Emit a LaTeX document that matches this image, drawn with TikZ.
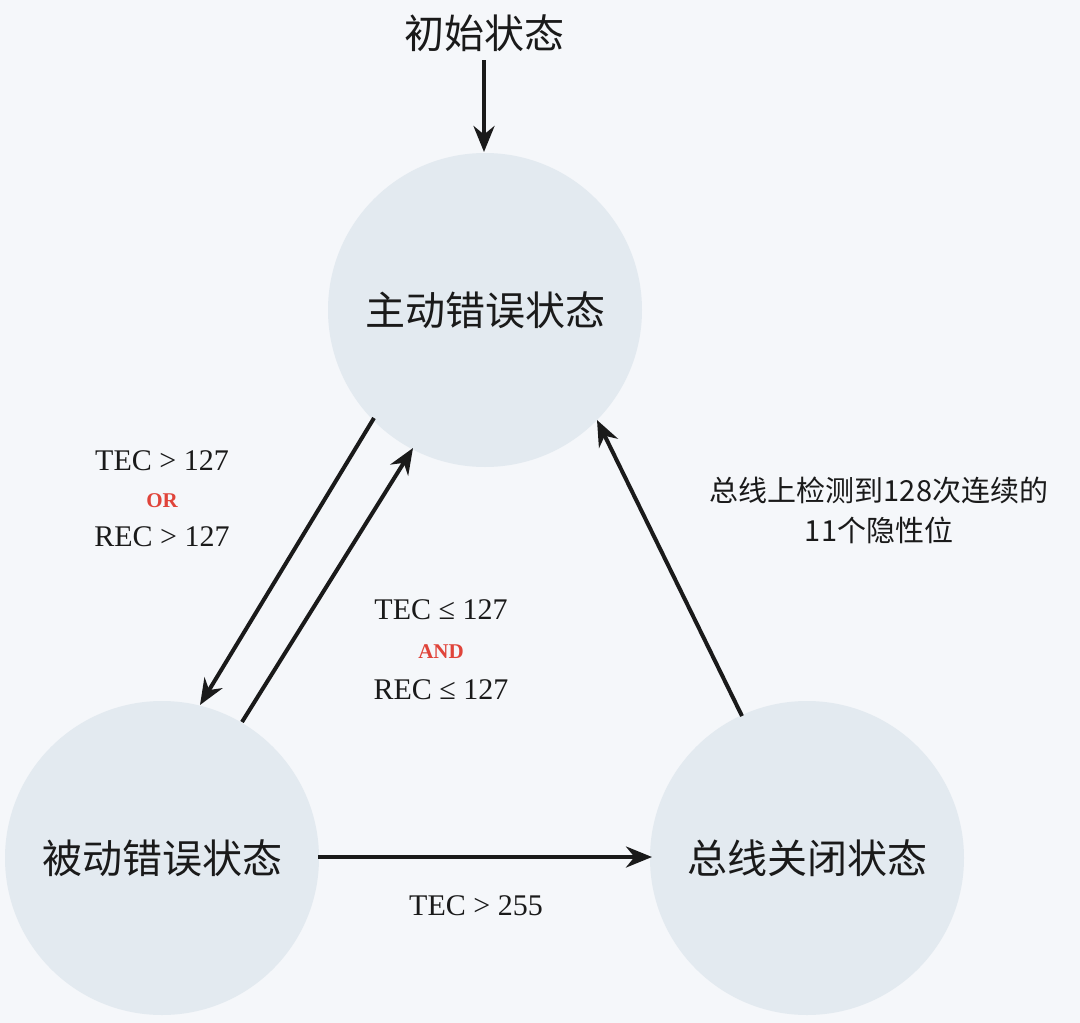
\documentclass[tikz,border=0pt]{standalone}
\usepackage{fontspec}
\setmainfont{Liberation Serif}
\newfontfamily\cjk{Noto Sans CJK SC}
\usetikzlibrary{arrows.meta}
\definecolor{bg}{HTML}{F5F7FA}
\definecolor{cf}{HTML}{E3EAF0}
\definecolor{rd}{HTML}{E0443A}
\definecolor{tx}{HTML}{1A1A1A}
\tikzset{
 st/.style={circle,fill=cf,minimum size=314pt,inner sep=0pt,font=\cjk\fontsize{40}{44}\selectfont,text=tx},
 ar/.style={line width=4pt,draw=tx,-{Stealth[length=26pt,width=21pt]}},
 lb/.style={font=\fontsize{30}{34}\selectfont,text=tx},
 kw/.style={font=\bfseries\fontsize{21}{24}\selectfont,text=rd}
}
\begin{document}
\begin{tikzpicture}[x=1pt,y=-1pt]
\fill[bg] (0,0) rectangle (1080,1023);
\useasboundingbox (0,0) rectangle (1080,1023);
\node[font=\cjk\fontsize{40}{44}\selectfont,text=tx] (init) at (484,33) {初始状态};
\node[st] (a) at (485,310) {主动错误状态};
\node[st] (p) at (162,858) {被动错误状态};
\node[st] (o) at (807,858) {总线关闭状态};
\coordinate (i1) at (484,60);
\coordinate (i2) at (484,152);
\draw[ar] (i1) -- (i2);
\coordinate (a1) at (374,418); \coordinate (p1) at (200,705);
\draw[ar] (a1) -- (p1);
\coordinate (p2) at (242,722); \coordinate (a2) at (413,448);
\draw[ar] (p2) -- (a2);
\coordinate (p3) at (318,857); \coordinate (o3) at (652,857);
\draw[ar] (p3) -- (o3);
\coordinate (o4) at (742,716); \coordinate (a4) at (597,420);
\draw[ar] (o4) -- (a4);
\node[lb] (t1) at (162,461) {TEC > 127};
\node[kw] (t2) at (162,501) {OR};
\node[lb] (t3) at (162,537) {REC > 127};
\node[lb] (u1) at (441,610) {TEC ≤ 127};
\node[kw] (u2) at (441,652) {AND};
\node[lb] (u3) at (441,690) {REC ≤ 127};
\node[lb] (v) at (476,906) {TEC > 255};
\node[font=\cjk\fontsize{29}{40}\selectfont,text=tx,align=center] (w) at (879,510) {总线上检测到128次连续的\\11个隐性位};
\end{tikzpicture}
\end{document}
